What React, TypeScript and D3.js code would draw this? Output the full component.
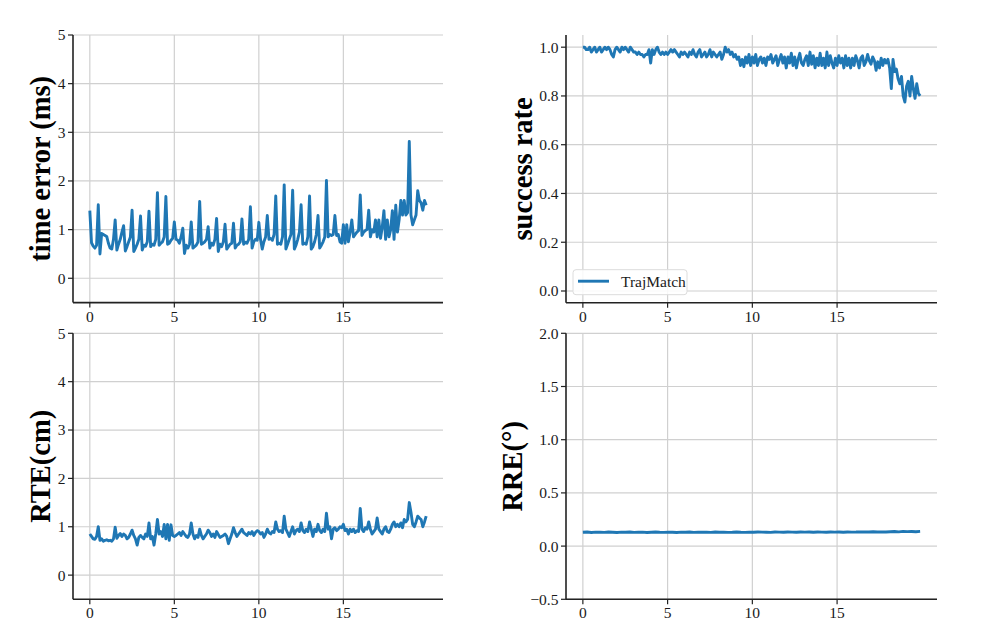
import * as d3 from "d3";

// sampled every 0.1 s on x from 0 to 19.9
const xStep = 0.1;
const xTicks = [0, 5, 10, 15];

const timeError = [
  1.39, 0.73, 0.66, 0.62, 0.68, 1.51, 0.5, 0.92, 0.9, 0.88,
  0.86, 0.72, 0.62, 0.6, 0.8, 1.2, 0.58, 0.7, 0.8, 0.95,
  1.08, 0.56, 0.65, 0.75, 0.85, 1.4, 0.55, 0.62, 0.7, 0.8,
  1.28, 0.58, 0.68, 0.66, 0.75, 1.38, 0.65, 0.7, 0.68, 0.8,
  1.76, 0.68, 0.72, 0.75, 0.85, 1.68, 0.7, 0.72, 0.78, 0.82,
  1.16, 0.8, 0.78, 0.72, 0.85, 1.03, 0.51, 0.68, 0.62, 0.7,
  1.16, 0.62, 0.65, 0.68, 0.75, 1.58, 0.7, 0.72, 0.75, 0.8,
  1.06, 0.62, 0.72, 0.68, 0.8, 1.23, 0.55, 0.7, 0.65, 0.75,
  1.11, 0.6, 0.65, 0.7, 0.72, 1.13, 0.62, 0.68, 0.7, 0.75,
  1.22, 0.7, 0.74, 0.72, 0.8, 1.47, 0.62, 0.75, 0.8, 0.78,
  1.15, 0.8, 0.6, 0.75, 0.85, 1.29, 0.8, 0.82, 0.78, 0.9,
  1.69, 0.7, 0.72, 0.7, 0.85, 1.92, 0.6, 0.7, 0.8, 0.9,
  1.81, 0.6, 0.68, 0.8, 0.95, 1.51, 0.7, 0.72, 0.7, 0.85,
  1.69, 0.6, 0.65, 0.75, 0.9, 1.29, 0.62, 0.68, 0.75, 0.85,
  2.01, 0.85, 0.9, 0.88, 0.9, 1.29, 0.88, 0.9, 0.75, 0.72,
  1.1, 0.72, 1.1, 0.75, 0.95, 1.2, 0.85, 0.9, 0.95, 0.98,
  1.71, 0.88, 0.95, 0.98, 1.0, 1.4, 0.85, 1.0, 0.95, 1.2,
  0.85, 1.2, 0.82, 1.05, 1.39, 0.8, 1.2, 0.85, 1.0, 1.39,
  0.8, 1.5, 0.95, 1.2, 1.6, 1.3, 1.6, 1.3, 1.35, 2.81,
  1.3, 1.1, 1.2, 1.3, 1.8, 1.6, 1.55, 1.4, 1.6, 1.5,
];

const successRate = [
  1.0, 1.0, 0.99, 0.99, 1.0, 0.98, 0.99, 1.0, 0.98, 0.99,
  1.0, 0.98, 0.99, 1.0, 0.99, 1.0, 0.99, 0.97, 0.96, 0.99,
  1.0, 0.99, 0.98, 1.0, 0.99, 1.0, 0.99, 0.98, 1.0, 0.99,
  0.98, 0.98, 0.97, 0.98, 0.97, 0.97, 0.96, 0.97, 0.97, 0.99,
  0.935, 0.99, 0.97, 0.99, 1.0, 0.98, 0.97, 0.98, 0.97, 0.98,
  0.97, 0.98, 0.99, 0.98, 0.99, 0.98, 0.97, 0.96, 0.98, 0.97,
  0.98, 0.97, 0.96, 0.98, 0.97, 0.99, 0.97, 0.96, 0.98, 0.99,
  0.96, 0.97, 0.98, 0.96, 0.97, 0.99, 0.96, 0.98, 0.97, 0.96,
  0.97, 0.98, 0.95, 0.97, 1.0, 0.98, 0.99, 0.97, 0.98, 0.96,
  0.97, 0.95, 0.96, 0.925, 0.95, 0.92, 0.96, 0.935, 0.97, 0.925,
  0.96, 0.935, 0.97, 0.925, 0.95, 0.96, 0.935, 0.955, 0.925, 0.96,
  0.95, 0.97, 0.935, 0.95, 0.965, 0.925, 0.95, 0.97, 0.935, 0.96,
  0.915, 0.96, 0.935, 0.975, 0.925, 0.96, 0.915, 0.95, 0.975, 0.935,
  0.925, 0.95, 0.965, 0.925, 0.98, 0.93, 0.965, 0.915, 0.955, 0.925,
  0.975, 0.925, 0.955, 0.915, 0.98, 0.925, 0.965, 0.935, 0.915, 0.955,
  0.925, 0.965, 0.935, 0.955, 0.915, 0.965, 0.925, 0.955, 0.915, 0.955,
  0.925, 0.965, 0.945, 0.915, 0.955, 0.965, 0.925, 0.94, 0.97, 0.945,
  0.93, 0.96, 0.945, 0.905, 0.94, 0.915, 0.955, 0.925, 0.95, 0.935,
  0.95, 0.915, 0.83, 0.95, 0.9, 0.91, 0.87, 0.85, 0.88, 0.8,
  0.775, 0.84, 0.86, 0.8, 0.88, 0.83, 0.79, 0.85, 0.81, 0.8,
];

const rte = [
  0.85, 0.8, 0.75, 0.74, 0.8, 1.0, 0.72, 0.75, 0.7, 0.72,
  0.73, 0.71, 0.72, 0.7, 0.75, 0.99, 0.76, 0.82, 0.86, 0.8,
  0.85, 0.82, 0.75, 0.78, 0.85, 0.93, 0.82, 0.75, 0.62, 0.78,
  0.82, 0.78, 0.75, 0.85, 0.8, 1.08, 0.75, 0.8, 0.62, 0.85,
  1.15, 0.85, 0.9, 0.8, 1.05, 0.75, 1.05, 0.72, 1.04, 0.82,
  0.8, 0.82, 0.85, 0.88, 0.82, 0.9, 0.85, 0.8, 0.78, 0.85,
  1.08, 0.85, 0.75, 0.82, 0.78, 0.95, 0.82, 0.75, 0.8, 0.85,
  0.93, 0.88, 0.8, 0.85, 0.78, 0.9, 0.84, 0.78, 0.8, 0.82,
  0.85, 0.8, 0.65, 0.75, 0.85, 0.98, 0.88, 0.8, 0.85, 0.9,
  0.95, 0.88, 0.85, 0.82, 0.88, 0.85, 0.9, 0.82, 0.88, 0.92,
  0.9, 0.85, 0.88, 0.78, 0.85, 0.95, 0.88, 0.85, 0.9, 0.88,
  1.1, 0.95, 0.9, 0.92, 0.88, 1.22, 0.95, 0.88, 0.8, 0.9,
  1.0, 0.85, 0.92, 0.95, 0.9, 1.08, 0.92, 0.88, 0.95, 0.9,
  1.1, 0.95, 0.8, 0.95, 0.9, 1.05, 0.92, 0.88, 0.95, 0.9,
  1.28, 0.95, 1.0, 0.75, 0.95, 0.98, 0.92, 0.95, 1.0, 0.98,
  1.05, 0.92, 0.95, 0.85, 0.95, 0.9, 0.95, 0.88, 0.92, 0.9,
  1.38, 0.95, 0.9, 0.98, 0.95, 1.1, 0.95, 0.85, 0.9, 0.95,
  1.18, 0.95, 0.9, 0.85, 0.95, 1.0, 0.9, 0.88, 0.95, 1.05,
  1.1, 1.0, 1.05, 1.0, 1.08, 0.98, 1.15, 1.1, 1.15, 1.5,
  1.3, 1.05, 1.0, 1.1, 1.22, 1.18, 1.15, 1.0, 1.1, 1.22,
];

const rre = [
  0.13, 0.132, 0.128, 0.131, 0.13, 0.129, 0.132, 0.13, 0.128, 0.131,
  0.13, 0.132, 0.129, 0.13, 0.131, 0.128, 0.13, 0.132, 0.13, 0.129,
  0.131, 0.13, 0.128, 0.131, 0.13, 0.132, 0.129, 0.13, 0.131, 0.13,
  0.129, 0.132, 0.13, 0.131, 0.129, 0.13, 0.132, 0.13, 0.129, 0.131,
  0.13, 0.132, 0.131, 0.13, 0.129, 0.132, 0.131, 0.13, 0.132, 0.131,
  0.13, 0.132, 0.131, 0.133, 0.13, 0.132, 0.131, 0.13, 0.133, 0.131,
  0.132, 0.13, 0.133, 0.131, 0.132, 0.134, 0.132, 0.133, 0.135, 0.133,
  0.134, 0.132, 0.135, 0.137, 0.134, 0.138, 0.136, 0.137, 0.135, 0.138,
];

const lineColor = "#1f77b4";
const serif = "'Liberation Serif', 'Times New Roman', serif";

type PanelProps = {
  values: number[];
  step: number;
  left: number;
  right: number;
  top: number;
  bottom: number;
  yDomain: [number, number];
  yTicks: number[];
  yFormat: (v: number) => string;
  label: string;
  labelX: number;
  legend?: string;
};

function Panel({ values, step, left, right, top, bottom, yDomain, yTicks, yFormat, label, labelX, legend }: PanelProps) {
  const x = d3.scaleLinear().domain([-0.995, 20.895]).range([left, right]);
  const y = d3.scaleLinear().domain(yDomain).range([bottom, top]);
  const path = d3
    .line<number>()
    .x((_, i) => x(i * step))
    .y((v) => y(v))(values);

  return (
    <g fontFamily={serif}>
      {yTicks.map((t) => (
        <line key={`gy-${t}`} x1={left} x2={right} y1={y(t)} y2={y(t)} stroke="#d0d0d0" strokeWidth={1.2} />
      ))}
      {xTicks.map((t) => (
        <line key={`gx-${t}`} x1={x(t)} x2={x(t)} y1={top} y2={bottom} stroke="#d0d0d0" strokeWidth={1.2} />
      ))}
      <path d={path ?? ""} fill="none" stroke={lineColor} strokeWidth={2.9} strokeLinejoin="round" />
      <line x1={left} x2={left} y1={top} y2={bottom} stroke="#222" strokeWidth={1.6} />
      <line x1={left} x2={right} y1={bottom} y2={bottom} stroke="#222" strokeWidth={1.6} />
      {yTicks.map((t) => (
        <g key={`ty-${t}`}>
          <line x1={left - 5} x2={left} y1={y(t)} y2={y(t)} stroke="#222" strokeWidth={1.2} />
          <text x={left - 7.5} y={y(t)} dy="0.35em" textAnchor="end" fontSize={15.5} fill="#1a1a1a">
            {yFormat(t)}
          </text>
        </g>
      ))}
      {xTicks.map((t) => (
        <g key={`tx-${t}`}>
          <line x1={x(t)} x2={x(t)} y1={bottom} y2={bottom + 5} stroke="#222" strokeWidth={1.2} />
          <text x={x(t)} y={bottom + 19} textAnchor="middle" fontSize={15.5} fill="#1a1a1a">
            {t}
          </text>
        </g>
      ))}
      <text
        transform={`translate(${labelX}, ${(top + bottom) / 2}) rotate(-90)`}
        textAnchor="middle"
        dy="0.35em"
        fontSize={28.5}
        fontWeight="bold"
        fill="#000"
      >
        {label}
      </text>
      {legend ? (
        <g>
          <rect x={left + 7} y={bottom - 33} width={114} height={25} rx={3} fill="#fff" fillOpacity={0.85} stroke="#dcdcdc" />
          <line x1={left + 12} x2={left + 43} y1={bottom - 21.5} y2={bottom - 21.5} stroke={lineColor} strokeWidth={2.9} />
          <text x={left + 55} y={bottom - 21.5} dy="0.35em" fontSize={15.5} fill="#1a1a1a">
            {legend}
          </text>
        </g>
      ) : null}
    </g>
  );
}

const intFormat = d3.format("d");
const oneDecimal = d3.format(".1f");

export default function App() {
  return (
    <svg width={986} height={621} style={{ position: "absolute", left: 0, top: 0, background: "#fff" }}>
      <Panel
        values={timeError}
        step={xStep}
        left={73}
        right={443}
        top={35}
        bottom={302.6}
        yDomain={[-0.5, 5]}
        yTicks={[0, 1, 2, 3, 4, 5]}
        yFormat={intFormat}
        label="time error (ms)"
        labelX={40}
      />
      <Panel
        values={successRate}
        step={xStep}
        left={566}
        right={937}
        top={35}
        bottom={302.7}
        yDomain={[-0.048, 1.05]}
        yTicks={[0, 0.2, 0.4, 0.6, 0.8, 1.0]}
        yFormat={oneDecimal}
        label="success rate"
        labelX={522}
        legend="TrajMatch"
      />
      <Panel
        values={rte}
        step={xStep}
        left={73}
        right={443}
        top={333.3}
        bottom={599.3}
        yDomain={[-0.5, 5]}
        yTicks={[0, 1, 2, 3, 4, 5]}
        yFormat={intFormat}
        label="RTE(cm)"
        labelX={40}
      />
      <Panel
        values={rre}
        step={19.9 / (rre.length - 1)}
        left={566}
        right={937}
        top={333.3}
        bottom={599.3}
        yDomain={[-0.5, 2.0]}
        yTicks={[-0.5, 0, 0.5, 1.0, 1.5, 2.0]}
        yFormat={oneDecimal}
        label="RRE(°)"
        labelX={512}
      />
    </svg>
  );
}
